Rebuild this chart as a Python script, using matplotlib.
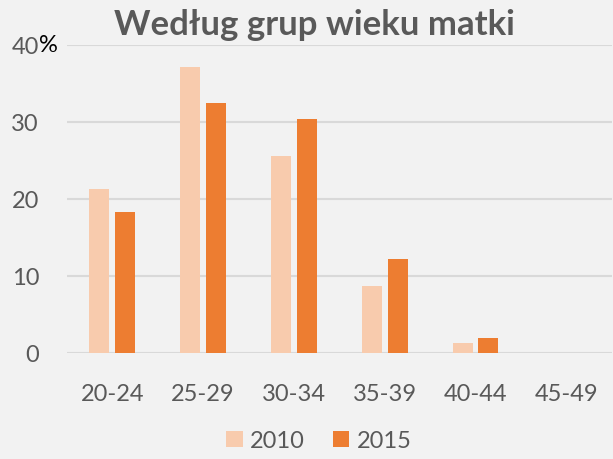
import numpy as np
import matplotlib.pyplot as plt

# data
categories = ['20-24', '25-29', '30-34', '35-39', '40-44', '45-49']
values_2010 = [21.3, 37.1, 25.5, 8.6, 1.2, 0.0]
values_2015 = [18.3, 32.4, 30.4, 12.2, 1.9, 0.0]
y_ticks = [0, 10, 20, 30, 40]

BG = '#f2f2f2'
TEXT = '#595959'
GRID = '#d9d9d9'
C2010 = '#f8cbad'
C2015 = '#ed7d31'

plt.rcParams['font.family'] = ['Lato', 'DejaVu Sans']

fig = plt.figure(figsize=(6.13, 4.6), dpi=100, facecolor=BG)
ax = fig.add_axes([0.109, 0.231, 0.889, 0.67], facecolor=BG)

x = np.arange(len(categories))
w = 0.22
off = 0.142
ax.bar(x - off, values_2010, width=w, color=C2010, label='2010', zorder=3)
ax.bar(x + off, values_2015, width=w, color=C2015, label='2015', zorder=3)

ax.set_xlim(-0.5, len(categories) - 0.5)
ax.set_ylim(0, 40)
ax.set_yticks(y_ticks)
ax.set_yticklabels([str(v) for v in y_ticks])
ax.set_xticks(x)
ax.set_xticklabels(categories)
ax.tick_params(axis='both', length=0, labelsize=17, labelcolor=TEXT)
ax.tick_params(axis='y', pad=20)
ax.tick_params(axis='x', pad=22)
ax.yaxis.grid(True, color=GRID, linewidth=1.5, zorder=0)
for s in ax.spines.values():
    s.set_visible(False)

# the "%" next to the top tick
fig.text(0.064, 0.9007, '%', fontsize=17, color='black', va='center', ha='left')

fig.text(0.513, 0.945, 'Według grup wieku matki', fontsize=25, fontweight='bold',
         color=TEXT, ha='center', va='center')

leg = fig.legend(loc='center', bbox_to_anchor=(0.52, 0.04), ncol=2, frameon=False,
                 fontsize=17, handlelength=0.7, handleheight=0.7, handletextpad=0.3,
                 columnspacing=1.2)
for t in leg.get_texts():
    t.set_color(TEXT)

fig.savefig('out.png', dpi=100, facecolor=BG)
